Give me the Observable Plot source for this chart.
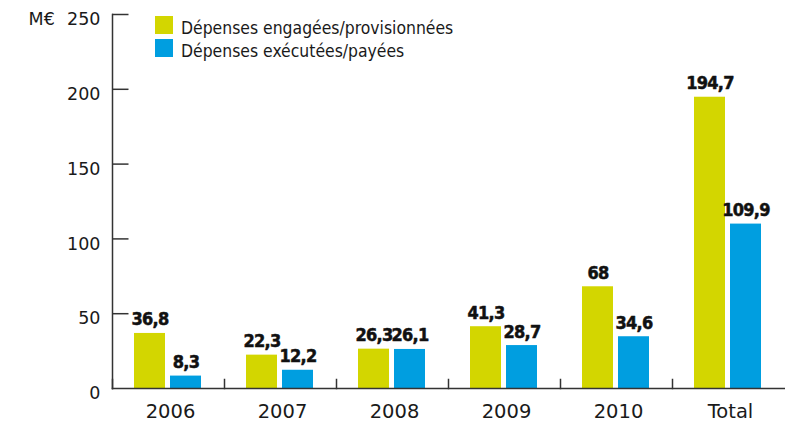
<!DOCTYPE html>
<html>
<head>
<meta charset="utf-8">
<script src="https://cdn.jsdelivr.net/npm/d3@7"></script>
<script src="https://cdn.jsdelivr.net/npm/@observablehq/plot@0.6"></script>
<style>
  html, body { margin: 0; padding: 0; background: #fff; }
  #wrap { position: relative; width: 785px; height: 423px; }
  #legend { position: absolute; left: 155px; top: 16px; font-family: "DejaVu Sans Condensed", "DejaVu Sans", sans-serif; font-stretch: condensed; font-size: 17.4px; color: #1a1a1a; }
  .row { display: flex; align-items: center; height: 23px; }
  .sw { width: 18px; height: 18px; margin-right: 8px; align-self: flex-start; }
  #chart g[aria-label="text"] text { font-stretch: condensed; letter-spacing: -0.7px; }
</style>
</head>
<body>
<div id="wrap">
  <div id="chart"></div>
  <div id="legend"></div>
</div>
<script>
const years = ["2006", "2007", "2008", "2009", "2010", "Total"];
const engagees = [36.8, 22.3, 26.3, 41.3, 68, 194.7];
const executees = [8.3, 12.2, 26.1, 28.7, 34.6, 109.9];
const seriesNames = ["Dépenses engagées/provisionnées", "Dépenses exécutées/payées"];
const seriesColors = ["#d3d600", "#009ee0"];
const yTicks = [0, 50, 100, 150, 200, 250];
const unitLabel = "M€";

const fmt = v => String(v).replace(".", ",");
const data = years.flatMap((yr, i) => [
  {year: yr, serie: seriesNames[0], value: engagees[i], label: fmt(engagees[i])},
  {year: yr, serie: seriesNames[1], value: executees[i], label: fmt(executees[i])}
]);
const tickRows = yTicks.slice(1).map(v => ({v, fx: years[0]}));

const axisColor = "#333";
const chart = Plot.plot({
  width: 785,
  height: 423,
  marginLeft: 110,
  marginRight: 0,
  marginTop: 14,
  marginBottom: 35,
  style: {fontFamily: "DejaVu Sans, sans-serif", background: "#fff", color: "#1a1a1a"},
  fx: {domain: years, paddingInner: 0, paddingOuter: 0, label: null, axis: null},
  x: {domain: seriesNames, paddingInner: 5 / 37, paddingOuter: 0.59, axis: null},
  y: {domain: [0, 250], axis: null},
  color: {domain: seriesNames, range: seriesColors},
  marks: [
    Plot.barY(data, {fx: "year", x: "serie", y: "value", fill: "serie"}),
    Plot.text(data, {fx: "year", x: "serie", y: "value", text: "label", dy: -8, lineAnchor: "bottom",
      fontWeight: "bold", fontSize: 18, fontFamily: "DejaVu Sans Condensed, DejaVu Sans, sans-serif",
      fill: "#111", stroke: "#111", strokeWidth: 0.5}),
    Plot.frame({anchor: "left", insetTop: 365, stroke: axisColor, strokeWidth: 1.5}),
    Plot.frame({anchor: "left", facet: "super", stroke: axisColor, strokeWidth: 1.5}),
    Plot.frame({anchor: "bottom", facet: "super", stroke: axisColor, strokeWidth: 1.5}),
    Plot.ruleY(tickRows, {fx: "fx", y: "v", insetRight: 112.5 - 17, stroke: axisColor, strokeWidth: 1.5}),
    Plot.axisY({ticks: yTicks, tickSize: 0, tickPadding: 12, dy: 5, fontSize: 17.5, label: null,
      tickFormat: d => d === 250 ? unitLabel + "\u2002\u2009" + d : String(d)}),
    Plot.axisFx({anchor: "bottom", tickSize: 0, tickPadding: 16, dx: 2, fontSize: 19.5, label: null})
  ]
});
document.getElementById("chart").appendChild(chart);

const legend = document.getElementById("legend");
seriesNames.forEach((name, i) => {
  const row = document.createElement("div");
  row.className = "row";
  const sw = document.createElement("div");
  sw.className = "sw";
  sw.style.background = seriesColors[i];
  const t = document.createElement("span");
  t.textContent = name;
  row.appendChild(sw);
  row.appendChild(t);
  legend.appendChild(row);
});
</script>
</body>
</html>
